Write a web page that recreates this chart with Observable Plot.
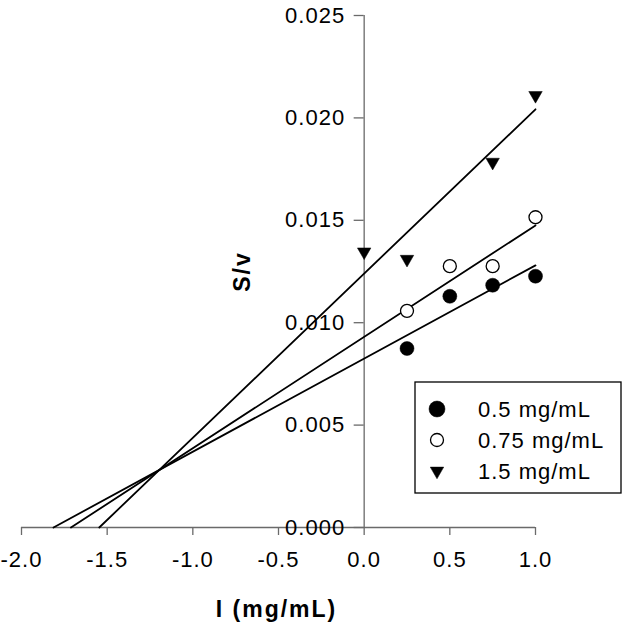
<!DOCTYPE html>
<html><head><meta charset="utf-8">
<script src="https://cdn.jsdelivr.net/npm/d3@7"></script>
<script src="https://cdn.jsdelivr.net/npm/@observablehq/plot@0.6"></script>
<style>
body{margin:0;background:#fff}
#chart{position:relative;width:628px;height:631px}
svg{font-family:"Liberation Sans",Arial,sans-serif}
svg text{letter-spacing:1px}
svg g[font-weight="bold"] text{letter-spacing:2px}
</style>
</head><body><div id="chart"></div>
<script>
// ---- data ----
const xTicks = [-2, -1.5, -1, -0.5, 0, 0.5, 1];
const yTicks = [0, 0.005, 0.01, 0.015, 0.02, 0.025];
const seriesNames = ["0.5 mg/mL", "0.75 mg/mL", "1.5 mg/mL"];

const xFilled = [0.25, 0.5, 0.75, 1];
const yFilled = [0.00874, 0.01129, 0.01183, 0.01227];

const xOpen = [0.25, 0.5, 0.75, 1];
const yOpen = [0.01058, 0.01276, 0.01276, 0.01515];

const xTri = [0, 0.25, 0.75, 1];
const yTri = [0.01346, 0.0131, 0.01784, 0.0211];

// fitted lines (value at I = 0, slope)
const fitIntercept = [0.00825, 0.00931, 0.0124];
const fitSlope = [0.00455, 0.00544, 0.00802];

// ---- build ----
const W = 628, H = 631;
const mL = 21, mR = 93, mT = 15, mB = 104;
const xDom = [-2, 1], yDom = [0, 0.025];
const axisX0 = (0 - xDom[0]) / (xDom[1] - xDom[0]) * (W - mL - mR); // offset of I=0 from left edge of frame

const pts = (xs, ys) => xs.map((x, i) => ({x, y: ys[i]}));
const filled = pts(xFilled, yFilled);
const open = pts(xOpen, yOpen);
const tri = pts(xTri, yTri);

const fits = seriesNames.map((s, i) => [
  {x: -fitIntercept[i] / fitSlope[i], y: 0, s},
  {x: 1, y: fitIntercept[i] + fitSlope[i], s}
]).flat();

const grey = "#6a6a6a";
const FS = 22;

const plot = Plot.plot({
  width: W, height: H,
  marginLeft: mL, marginRight: mR, marginTop: mT, marginBottom: mB,
  x: {domain: xDom},
  y: {domain: yDom},
  style: {fontFamily: '"Liberation Sans", Arial, sans-serif', background: "#fff"},
  marks: [
    // x axis along y = 0
    Plot.ruleY([0], {x1: xDom[0], x2: xDom[1], stroke: grey, strokeWidth: 1.3}),
    Plot.axisX({ticks: xTicks, tickSize: 8, tickPadding: 16, fontSize: FS, stroke: grey, strokeWidth: 1.3,
      tickFormat: d => d.toFixed(1), label: null, color: "#000"}),
    // y axis drawn at I = 0
    Plot.ruleX([0], {y1: yDom[0], y2: yDom[1], stroke: grey, strokeWidth: 1.3}),
    Plot.axisY({ticks: yTicks, anchor: "left", dx: axisX0, tickSize: 10, tickPadding: 9, fontSize: FS,
      stroke: grey, strokeWidth: 1.3, tickFormat: d3.format(".3f"), label: null}),
    // axis titles
    Plot.text(["I (mg/mL)"], {frameAnchor: "bottom", textAnchor: "middle", lineAnchor: "middle",
      dx: -2, dy: 82, fontSize: 23, fontWeight: "bold", fill: "#000"}),
    Plot.text(["S/v"], {frameAnchor: "left", textAnchor: "middle", lineAnchor: "middle",
      dx: 221, rotate: -90, fontSize: 23, fontWeight: "bold", fill: "#000"}),
    // fitted lines
    Plot.line(fits, {x: "x", y: "y", z: "s", stroke: "#000", strokeWidth: 1.8}),
    // data points
    Plot.dot(filled, {x: "x", y: "y", r: 7, fill: "#000", stroke: "#000", strokeWidth: 0.5}),
    Plot.dot(open, {x: "x", y: "y", r: 6.5, fill: "#fff", stroke: "#000", strokeWidth: 1.3}),
    Plot.dot(tri, {x: "x", y: "y", r: 5, symbol: "triangle", rotate: 180, fill: "#000", stroke: "#000", strokeWidth: 0.5})
  ]
});

// legend drawn inside the SVG
const svg = d3.select(plot);
const lg = svg.append("g").attr("font-size", FS).attr("text-anchor", "start")
  .attr("font-family", '"Liberation Sans", Arial, sans-serif');
lg.append("rect").attr("x", 415).attr("y", 382).attr("width", 206).attr("height", 111)
  .attr("fill", "#fff").attr("stroke", "#000").attr("stroke-width", 1.3);
const legStyles = [
  {type: d3.symbolCircle, fill: "#000", stroke: "#000", sw: 0.5, r: 8},
  {type: d3.symbolCircle, fill: "#fff", stroke: "#000", sw: 1.3, r: 6.5},
  {type: d3.symbolTriangle, fill: "#000", stroke: "#000", sw: 0.5, r: 5, rot: 180}
];
seriesNames.forEach((name, i) => {
  const y = 409 + i * 31;
  const st = legStyles[i];
  lg.append("path").attr("d", d3.symbol(st.type, Math.PI * st.r * st.r)())
    .attr("transform", `translate(437,${y})` + (st.rot ? ` rotate(${st.rot})` : ""))
    .attr("fill", st.fill).attr("stroke", st.stroke).attr("stroke-width", st.sw);
  lg.append("text").attr("x", 478).attr("y", y).attr("dy", "0.35em").attr("fill", "#000").text(name);
});

document.getElementById("chart").appendChild(plot);
</script>
</body></html>
